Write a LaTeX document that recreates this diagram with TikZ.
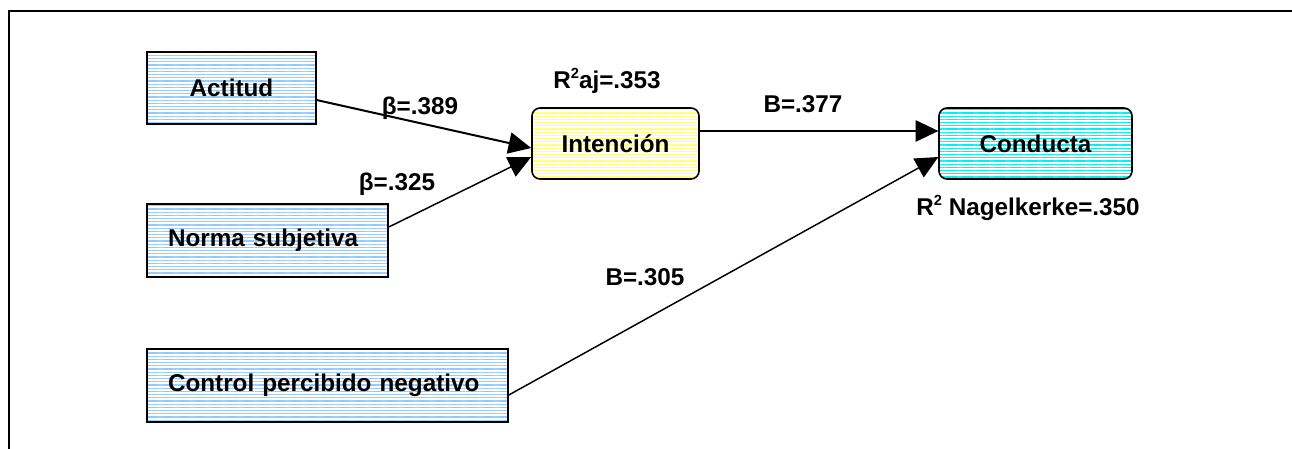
\documentclass[tikz,border=0pt]{standalone}
\usepackage{fontspec}
\setmainfont{Liberation Sans}
\usetikzlibrary{arrows.meta,patterns.meta,calc}
\def\pxu{0.75pt}
\newcommand\mysup[1]{\raisebox{0.75ex}{\fontsize{11pt}{11pt}\selectfont #1}}
\definecolor{boxblue}{RGB}{150,200,250}
\definecolor{boxyellow}{RGB}{255,255,120}
\definecolor{boxcyan}{RGB}{0,240,240}
\tikzset{
  txt/.style={font=\fontsize{18.2pt}{21pt}\selectfont\bfseries},
  lbl/.style={txt, inner sep=0pt},
  basebox/.style={draw, line width=1.2pt, inner ysep=0pt, txt},
  bluebox/.style={basebox, pattern={Lines[angle=0,distance=2.4pt,line width=0.8pt]}, pattern color=boxblue},
  yellowbox/.style={basebox, rounded corners=6pt, pattern={Lines[angle=0,distance=2.4pt,line width=0.8pt]}, pattern color=boxyellow},
  cyanbox/.style={basebox, rounded corners=6pt, pattern={Lines[angle=0,distance=2.4pt,line width=1pt]}, pattern color=boxcyan},
  arr/.style={-{Triangle[length=17pt,width=16pt]}, line width=1.1pt},
  arrthick/.style={arr, line width=1.5pt},
}
\begin{document}
\begin{tikzpicture}[x=0.75pt,y=-0.75pt]
\useasboundingbox (0,0) rectangle (1292,449);
\draw[line width=1.5pt] (9,449) -- (9,11) -- (1292,11);

\node[bluebox, minimum width=169*\pxu, minimum height=72*\pxu] (act) at (231.5,88) {Actitud};
\node[bluebox, inner xsep=21*\pxu, text width=199*\pxu, align=left, minimum height=73*\pxu] (norma) at (267.5,240.5) {Norma subjetiva};
\node[bluebox, inner xsep=21*\pxu, text width=319*\pxu, align=left, minimum height=73*\pxu] (ctrl) at (327.5,385.5) {Control percibido negativo};
\node[yellowbox, minimum width=167*\pxu, minimum height=71*\pxu] (int) at (615.5,143.5) {Intención};
\node[cyanbox, minimum width=193*\pxu, minimum height=71*\pxu] (cond) at (1035.5,143.5) {Conducta};

\draw[arrthick] ($(act.east)+(0,12)$) -- ($(int.west)+(0,4.5)$);
\draw[arr] ($(norma.east)+(0,-13.5)$) -- ($(int.west)+(0,13.5)$);
\draw[arr] ($(int.east)+(0,-12.5)$) -- ($(cond.west)+(0,-12.5)$);
\draw[arr] ($(ctrl.east)+(0,9.5)$) -- ($(cond.west)+(0,13.5)$);

\node[lbl] (b1) at (420,108) {β=.389};
\node[lbl] (b2) at (397,184) {β=.325};
\node[lbl] (r1) at (607,81) {R\mysup{2}aj=.353};
\node[lbl] (b3) at (803,104) {B=.377};
\node[lbl] (r2) at (1028,208) {R\mysup{2} Nagelkerke=.350};
\node[lbl] (b4) at (645,277) {B=.305};
\end{tikzpicture}
\end{document}
